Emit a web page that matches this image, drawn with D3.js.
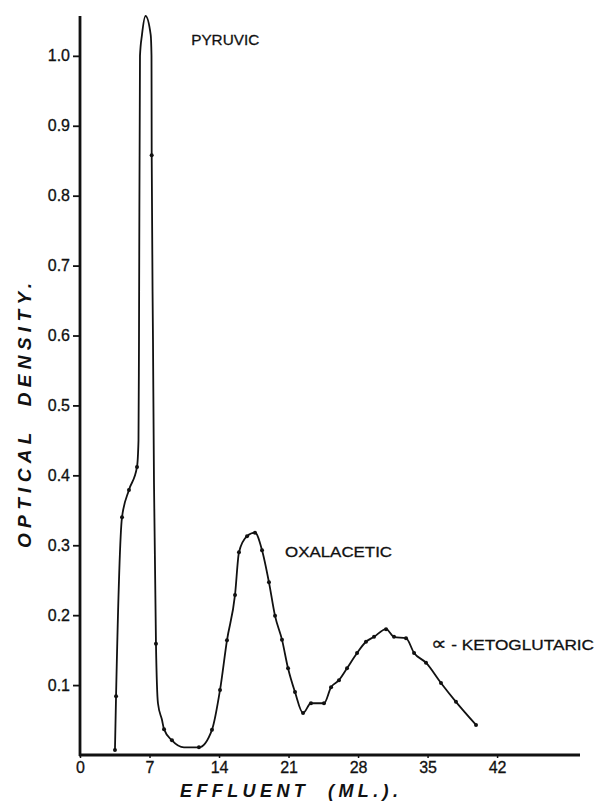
<!DOCTYPE html>
<html>
<head>
<meta charset="utf-8">
<script src="https://d3js.org/d3.v7.min.js"></script>
<style>
  body { margin: 0; background: #fff; }
  svg { display: block; }
  text { fill: #111; }
</style>
</head>
<body>
<div id="chart"></div>
<script>
// effluent (ml) and optical density
const effluent = [3.52, 3.63, 4.23, 4.93, 5.74, 5.89, 5.94, 6.04, 6.24, 6.60,
  7.12, 7.20, 7.22, 7.35, 7.45, 7.65, 7.85, 8.26, 8.46, 9.26,
  10.47, 11.98, 13.29, 14.10, 14.80, 15.61, 16.01, 16.82, 17.62, 18.33,
  19.03, 19.64, 20.34, 20.95, 21.65, 22.46, 23.26, 24.57, 25.28, 26.08,
  26.89, 27.90, 28.80, 29.61, 30.82, 31.62, 32.83, 33.64, 34.84, 36.35,
  37.86, 39.88];
const density = [0.007, 0.084, 0.340, 0.379, 0.412, 0.45, 0.594, 1.0, 1.03, 1.057,
  1.03, 1.0, 0.858, 0.594, 0.39, 0.159, 0.074, 0.05, 0.037, 0.021,
  0.011, 0.011, 0.036, 0.093, 0.164, 0.229, 0.290, 0.313, 0.318, 0.293,
  0.247, 0.199, 0.165, 0.124, 0.090, 0.060, 0.074, 0.074, 0.097, 0.107,
  0.124, 0.146, 0.162, 0.169, 0.180, 0.169, 0.167, 0.146, 0.132, 0.103,
  0.076, 0.043];
// which readings carry a plotted dot
const marked = [1, 1, 1, 1, 1, 0, 0, 0, 0, 0,
  0, 0, 1, 0, 0, 1, 0, 0, 1, 1,
  0, 1, 1, 1, 1, 1, 1, 1, 1, 1,
  1, 1, 1, 1, 1, 1, 1, 1, 1, 1,
  1, 1, 1, 1, 1, 1, 1, 1, 1, 1,
  1, 1];

const xTicks = [0, 7, 14, 21, 28, 35, 42];
const yTicks = [0.1, 0.2, 0.3, 0.4, 0.5, 0.6, 0.7, 0.8, 0.9, 1.0];
const yTickLabels = ["0.1", "0.2", "0.3", "0.4", "0.5", "0.6", "0.7", "0.8", "0.9", "1.0"];

const peakPrefix = ["", "", "\u221D"];
const peakNames = ["PYRUVIC", "OXALACETIC", " - KETOGLUTARIC"];
const peakNameX = [11.2, 20.65, 35.35];
const peakNameY = [1.016, 0.283, 0.150];

const width = 598;
const height = 803;

const x = d3.scaleLinear().domain([0, 50.35]).range([80, 580]);
const y = d3.scaleLinear().domain([0, 1.057]).range([755, 16]);

const svg = d3.select("#chart")
  .append("svg")
  .attr("width", width)
  .attr("height", height);

const font = "'Liberation Sans', Arial, sans-serif";

// y axis
const yAxis = svg.append("g")
  .attr("transform", `translate(${x(0)},0)`)
  .call(d3.axisLeft(y).tickValues(yTicks).tickSize(7).tickPadding(3)
    .tickFormat((d, i) => yTickLabels[i]));
yAxis.select(".domain").remove();
yAxis.selectAll(".tick line").attr("stroke", "#111").attr("stroke-width", 1.8);
yAxis.selectAll(".tick text")
  .attr("font-family", font).attr("font-size", 16).attr("fill", "#111")
  .attr("stroke", "#111").attr("stroke-width", 0.3);

// x axis
const xAxis = svg.append("g")
  .attr("transform", `translate(0,${y(0)})`)
  .call(d3.axisBottom(x).tickValues(xTicks).tickSize(3).tickPadding(4));
xAxis.select(".domain").remove();
xAxis.selectAll(".tick line").attr("stroke", "#111").attr("stroke-width", 1.5);
xAxis.selectAll(".tick text")
  .attr("font-family", font).attr("font-size", 16).attr("fill", "#111")
  .attr("stroke", "#111").attr("stroke-width", 0.3);

// axis lines drawn heavier like the ink original
svg.append("line")
  .attr("x1", x(0)).attr("x2", x(0))
  .attr("y1", y(1.057)).attr("y2", y(0) + 1)
  .attr("stroke", "#111").attr("stroke-width", 2.8);
svg.append("line")
  .attr("x1", x(0) - 1).attr("x2", x(50.35))
  .attr("y1", y(0)).attr("y2", y(0))
  .attr("stroke", "#111").attr("stroke-width", 2.8);

const pts = effluent.map((e, i) => ({ e, d: density[i], m: marked[i] }));

const line = d3.line()
  .x(p => x(p.e))
  .y(p => y(p.d))
  .curve(d3.curveMonotoneX);

svg.append("path")
  .datum(pts)
  .attr("d", line)
  .attr("fill", "none")
  .attr("stroke", "#111")
  .attr("stroke-width", 1.8);

svg.selectAll("circle.pt")
  .data(pts.filter(p => p.m))
  .enter()
  .append("circle")
  .attr("class", "pt")
  .attr("cx", p => x(p.e))
  .attr("cy", p => y(p.d))
  .attr("r", 2)
  .attr("fill", "#111");

// peak annotations
const nameWidths = [68, 107, 163];
const peaks = svg.selectAll("text.peak")
  .data(peakNames)
  .enter()
  .append("text")
  .attr("class", "peak")
  .attr("x", (d, i) => x(peakNameX[i]))
  .attr("y", (d, i) => y(peakNameY[i]))
  .attr("font-family", font)
  .attr("font-size", 15)
  .attr("stroke", "#111")
  .attr("stroke-width", 0.3)
  .attr("textLength", (d, i) => nameWidths[i])
  .attr("lengthAdjust", "spacingAndGlyphs")
  .style("white-space", "pre");
peaks.append("tspan")
  .attr("font-family", "'DejaVu Sans', sans-serif")
  .attr("font-size", 19)
  .text((d, i) => peakPrefix[i]);
peaks.append("tspan")
  .text(d => d);

// axis titles
svg.append("text")
  .attr("x", 180)
  .attr("y", 797)
  .attr("font-family", font)
  .attr("font-size", 18)
  .attr("font-weight", "bold")
  .attr("font-style", "italic")
  .attr("textLength", 218)
  .attr("lengthAdjust", "spacing")
  .style("white-space", "pre")
  .text("EFFLUENT  (ML.).");

svg.append("text")
  .attr("transform", "translate(31,548) rotate(-90)")
  .attr("font-family", font)
  .attr("font-size", 19)
  .attr("font-weight", "bold")
  .attr("font-style", "italic")
  .attr("textLength", 265)
  .attr("lengthAdjust", "spacing")
  .style("white-space", "pre")
  .text("OPTICAL  DENSITY.");
</script>
</body>
</html>
